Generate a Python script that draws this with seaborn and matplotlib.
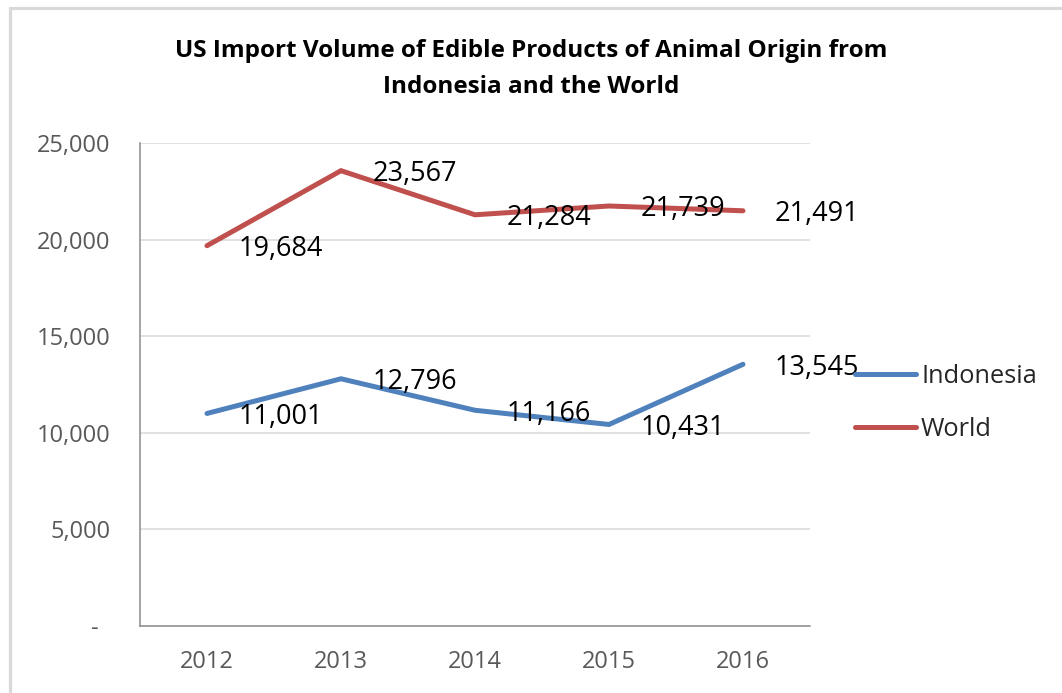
import matplotlib
matplotlib.use("Agg")
import matplotlib.pyplot as plt
import seaborn as sns
import pandas as pd
from matplotlib.ticker import FuncFormatter, MultipleLocator
from matplotlib.lines import Line2D

years = ["2012", "2013", "2014", "2015", "2016"]
indonesia = [11001, 12796, 11166, 10431, 13545]
world = [19684, 23567, 21284, 21739, 21491]
series_names = ["Indonesia", "World"]
colors = ["#4F81BD", "#C0504D"]
title = "US Import Volume of Edible Products of Animal Origin from\nIndonesia and the World"

df = pd.DataFrame({
    "year": years * 2,
    "value": indonesia + world,
    "series": [series_names[0]] * len(years) + [series_names[1]] * len(years),
})
df["x"] = list(range(len(years))) * 2

sns.set_style("white")
plt.rcParams["font.family"] = ["Open Sans", "DejaVu Sans"]

fig = plt.figure(figsize=(10.62, 6.93), dpi=100)
ax = fig.add_axes([140 / 1062, 1 - 626 / 693, 670 / 1062, (626 - 143) / 693])

sns.lineplot(data=df, x="x", y="value", hue="series", palette=colors,
             linewidth=3.6, ax=ax, legend=False, sort=False)
for ln in ax.lines:
    ln.set_solid_capstyle("round")
    ln.set_solid_joinstyle("miter")

ax.set_xlim(-0.5, len(years) - 0.5)
ax.set_ylim(0, 25000)
ax.set_xticks(range(len(years)))
ax.set_xticklabels(years)
ax.yaxis.set_major_locator(MultipleLocator(5000))
ax.yaxis.set_major_formatter(FuncFormatter(lambda v, p: "-  " if v == 0 else f"{int(v):,}"))
ax.tick_params(axis="both", length=0, labelsize=17, colors="#595959")
ax.tick_params(axis="y", pad=21)
ax.tick_params(axis="x", pad=17)
ax.grid(axis="y", color="#D9D9D9", linewidth=1.1)
ax.set_axisbelow(True)
ax.set_xlabel("")
ax.set_ylabel("")
for s in ["top", "right"]:
    ax.spines[s].set_visible(False)
for s in ["left", "bottom"]:
    ax.spines[s].set_color("#8C8C8C")
    ax.spines[s].set_linewidth(1.1)

for vals in [indonesia, world]:
    for i, v in enumerate(vals):
        ax.annotate(f"{v:,}", (i, v), xytext=(23, -2.5), textcoords="offset points",
                    ha="left", va="center", fontsize=19.5, color="#000000")

handles = [Line2D([], [], color=c, linewidth=3.6, solid_capstyle="round") for c in colors]
fig.legend(handles, series_names, loc="center left", bbox_to_anchor=(855 / 1062, 1 - 403 / 693),
           frameon=False, fontsize=18.3, handlelength=2.4, handletextpad=0.2, labelspacing=1.1,
           borderaxespad=0, borderpad=0)

fig.text(531 / 1062, 1 - 69 / 693, title, ha="center", va="center", fontsize=17.5,
         fontweight="bold", linespacing=1.65, color="#000000")

# frame edges (left and top) of the embedded chart
fig.add_artist(Line2D([9.5 / 1062, 9.5 / 1062], [0, 1 - 7.5 / 693], transform=fig.transFigure,
                      color="#D9D9D9", linewidth=2.3))
fig.add_artist(Line2D([9.5 / 1062, 1], [1 - 7.5 / 693, 1 - 7.5 / 693], transform=fig.transFigure,
                      color="#D9D9D9", linewidth=2.3))

fig.savefig("out.png", dpi=100)
